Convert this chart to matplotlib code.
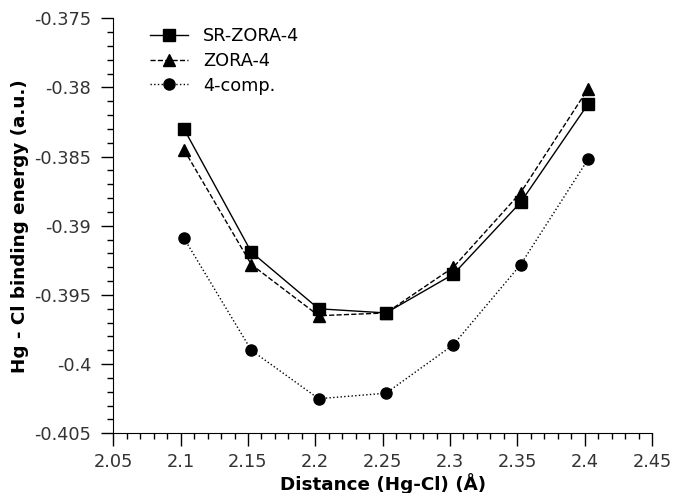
import matplotlib
matplotlib.use("Agg")
import matplotlib.pyplot as plt
from matplotlib.ticker import MultipleLocator, FuncFormatter

# Hg-Cl distances (Angstrom) and binding energies (a.u.)
distance = [2.1025, 2.1525, 2.2025, 2.2525, 2.3025, 2.3525, 2.4025]
sr_zora4 = [-0.3830, -0.3919, -0.3960, -0.3963, -0.3935, -0.3883, -0.3812]
zora4 = [-0.3845, -0.3928, -0.3965, -0.3963, -0.3930, -0.3876, -0.3801]
four_comp = [-0.3909, -0.3990, -0.4025, -0.4021, -0.3986, -0.3928, -0.3852]

series = [
    ("SR-ZORA-4", sr_zora4, "-", "s"),
    ("ZORA-4", zora4, "--", "^"),
    ("4-comp.", four_comp, ":", "o"),
]

fig = plt.figure(figsize=(6.76, 4.93), dpi=100)
ax = fig.add_axes([0.1676, 0.1211, 0.7969, 0.8418])

for label, values, ls, mk in series:
    ax.plot(distance, values, linestyle=ls, marker=mk, color="black",
            linewidth=1.0, markersize=8, label=label)

ax.set_xlim(2.05, 2.45)
ax.set_ylim(-0.405, -0.375)
ax.xaxis.set_major_locator(MultipleLocator(0.05))
ax.xaxis.set_minor_locator(MultipleLocator(0.01))
ax.yaxis.set_major_locator(MultipleLocator(0.005))
ax.yaxis.set_minor_locator(MultipleLocator(0.001))


def fmt(v, pos):
    return f"{v:.3f}".rstrip("0").rstrip(".")


ax.xaxis.set_major_formatter(FuncFormatter(fmt))
ax.yaxis.set_major_formatter(FuncFormatter(fmt))

ax.spines[["top", "right"]].set_visible(False)
ax.tick_params(which="major", direction="out", length=9, width=1,
               labelsize=12.8, labelcolor="#333333")
ax.tick_params(which="minor", direction="out", length=4.5, width=1)
ax.tick_params(axis="x", which="major", pad=5)
ax.tick_params(axis="y", which="major", pad=7)

ax.set_xlabel("Distance (Hg-Cl) (Å)", fontsize=13.2, fontweight="bold")
ax.set_ylabel("Hg - Cl binding energy (a.u.)", fontsize=13.2,
              fontweight="bold")
ax.xaxis.set_label_coords(0.5, -0.12)
ax.xaxis.label.set_va("center")
ax.yaxis.set_label_coords(-0.1725, 0.5)
ax.yaxis.label.set_va("center")

ax.legend(loc="upper left", bbox_to_anchor=(0.039, 1.018), frameon=False,
          fontsize=12.8, handlelength=2.1, labelspacing=0.39,
          handletextpad=0.85)

fig.savefig("out.png", dpi=100)
